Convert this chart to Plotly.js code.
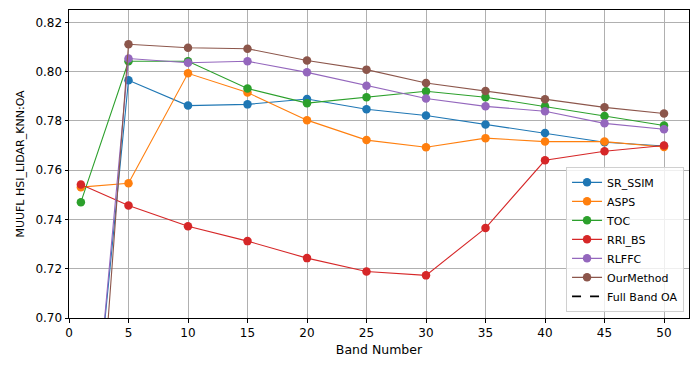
<!DOCTYPE html>
<html>
<head>
<meta charset="utf-8">
<script src="https://cdn.plot.ly/plotly-3.0.1.min.js"></script>
<style>
  body { margin: 0; background: #fff; }
  #chart { width: 699px; height: 371px; }
</style>
</head>
<body>
<div id="chart"></div>
<script>
var bands = [1, 5, 10, 15, 20, 25, 30, 35, 40, 45, 50];

var srSsim    = [0.600, 0.7965, 0.7862, 0.7867, 0.7889, 0.7847, 0.7822, 0.7785, 0.7751, 0.7713, 0.7698];
var asps      = [0.7531, 0.7547, 0.7993, 0.7915, 0.7803, 0.7722, 0.7693, 0.7730, 0.7716, 0.7716, 0.7694];
var toc       = [0.7470, 0.8042, 0.8042, 0.7931, 0.7872, 0.7896, 0.7920, 0.7896, 0.7859, 0.7820, 0.7781];
var rriBs     = [0.7542, 0.7457, 0.7372, 0.7312, 0.7243, 0.7189, 0.7173, 0.7365, 0.7640, 0.7677, 0.7700];
var rlffc     = [0.595, 0.8053, 0.8036, 0.8042, 0.7997, 0.7943, 0.7891, 0.7859, 0.7839, 0.7790, 0.7766];
var ourMethod = [0.550, 0.8111, 0.8097, 0.8093, 0.8045, 0.8008, 0.7954, 0.7921, 0.7888, 0.7855, 0.7830];

// full band reference line sits outside the visible range
var fullBandX = [0, 52];
var fullBandOA = [0.69, 0.69];

var names = ['SR_SSIM', 'ASPS', 'TOC', 'RRI_BS', 'RLFFC', 'OurMethod'];
var series = [srSsim, asps, toc, rriBs, rlffc, ourMethod];
var colors = ['#1f77b4', '#ff7f0e', '#2ca02c', '#d62728', '#9467bd', '#8c564b'];

var data = [];
for (var i = 0; i < series.length; i++) {
  data.push({
    x: bands,
    y: series[i],
    type: 'scatter',
    mode: 'lines+markers',
    name: names[i],
    line: {color: colors[i], width: 1.1},
    marker: {color: colors[i], size: 8.5}
  });
}
data.push({
  x: fullBandX,
  y: fullBandOA,
  type: 'scatter',
  mode: 'lines',
  name: 'Full Band OA',
  line: {color: '#000', width: 1.6, dash: 'dash'}
});

var layout = {
  width: 699,
  height: 371,
  margin: {l: 69, r: 10, t: 10, b: 53},
  paper_bgcolor: '#fff',
  plot_bgcolor: '#fff',
  font: {family: 'DejaVu Sans', size: 11, color: '#000'},
  showlegend: true,
  legend: {
    x: 0.992, y: 0.02, xanchor: 'right', yanchor: 'bottom',
    bgcolor: 'rgba(255,255,255,0.8)',
    bordercolor: '#d0d0d0', borderwidth: 1,
    font: {size: 11},
    tracegroupgap: 0
  },
  xaxis: {
    range: [0, 52.1],
    tickvals: [0, 5, 10, 15, 20, 25, 30, 35, 40, 45, 50],
    showgrid: true, gridcolor: '#b0b0b0', gridwidth: 0.8,
    zeroline: false,
    showline: true, linecolor: '#000', linewidth: 1, mirror: true,
    ticks: 'outside', ticklen: 3.5, tickcolor: '#000',
    tickfont: {size: 12},
    title: {text: 'Band Number', font: {size: 12.5}, standoff: 6}
  },
  yaxis: {
    range: [0.70, 0.825],
    tickvals: [0.70, 0.72, 0.74, 0.76, 0.78, 0.80, 0.82],
    tickformat: '.2f',
    showgrid: true, gridcolor: '#b0b0b0', gridwidth: 0.8,
    zeroline: false,
    showline: true, linecolor: '#000', linewidth: 1, mirror: true,
    ticks: 'outside', ticklen: 3.5, tickcolor: '#000',
    tickfont: {size: 12},
    title: {text: 'MUUFL HSI_LIDAR_KNN:OA', font: {size: 11}, standoff: 8}
  }
};

Plotly.newPlot('chart', data, layout, {displayModeBar: false});
</script>
</body>
</html>
